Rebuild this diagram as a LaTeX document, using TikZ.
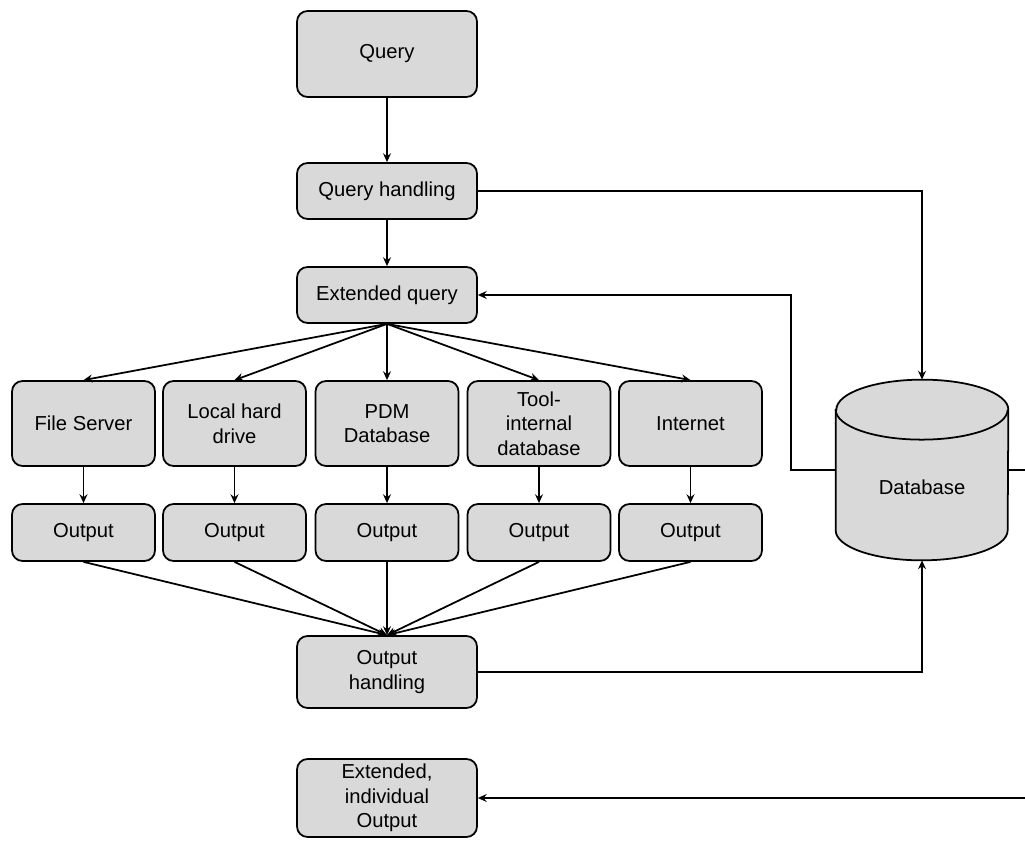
\documentclass[tikz,border=0pt]{standalone}
\usepackage{fontspec}
\setmainfont{Liberation Sans}
\usepackage{xcolor}
\usepackage{tikz}
\usetikzlibrary{arrows.meta,shapes.geometric,positioning,calc}

\definecolor{boxgray}{HTML}{D9D9D9}

\tikzset{
	box/.style={draw=black, line width=1pt, fill=boxgray, rounded corners=6pt,
			align=center, font=\fontsize{11.5}{14}\selectfont, inner sep=2pt},
	mainbox/.style={box, minimum width=3.6cm, minimum height=1.12cm},
	srcbox/.style={box, minimum width=2.86cm, minimum height=1.7cm},
	outbox/.style={box, minimum width=2.86cm, minimum height=1.14cm},
	arr/.style={line width=1pt, -{Stealth[length=5pt,width=4.5pt]}},
	line/.style={line width=1pt}
}

\begin{document}
\begin{tikzpicture}
		\useasboundingbox (0,0) rectangle (20.5,16.8);
		\clip (0,0) rectangle (20.5,16.8);

		% main column
		\node[mainbox, minimum height=1.72cm] (query) at (7.74,15.72) {Query};
		\node[mainbox] (qhandle) at (7.74,12.98) {Query handling};
		\node[mainbox] (extq) at (7.74,10.90) {Extended query};
		\node[mainbox, minimum height=1.44cm] (ohandle) at (7.74,3.36) {Output\\handling};
		\node[mainbox, minimum height=1.56cm] (final) at (7.74,0.84) {Extended,\\individual\\Output};

		\draw[arr] (query.south) -- (qhandle.north);
		\draw[arr] (qhandle.south) -- (extq.north);

		% sources and their outputs
		\foreach \x/\nm/\txt in {1.67/fs/{File Server}, 4.69/lhd/{Local hard\\drive},
				7.74/pdm/{PDM\\Database}, 10.78/tid/{Tool-\\internal\\database}, 13.81/inet/{Internet}} {
				\node[srcbox] (\nm) at (\x,8.33) {\txt};
				\node[outbox] (\nm-out) at (\x,6.15) {Output};
				\draw[arr] (extq.south) -- (\nm.north);
				\draw[arr] (\nm.south) -- (\nm-out.north);
				\draw[arr] (\nm-out.south) -- (ohandle.north);
			}

		% database cylinder
		\node[minimum width=3.44cm, minimum height=3.6cm, inner sep=0pt] (db) at (18.44,7.40) {};
		\draw[line width=1pt, fill=boxgray]
		([yshift=-0.6cm]db.north west) -- ([yshift=0.6cm]db.south west)
		arc[start angle=180, end angle=360, x radius=1.72cm, y radius=0.6cm]
		-- ([yshift=-0.6cm]db.north east)
		arc[start angle=0, end angle=180, x radius=1.72cm, y radius=0.6cm] -- cycle;
		\draw[line width=1pt] ([yshift=-0.6cm]db.north west)
		arc[start angle=180, end angle=360, x radius=1.72cm, y radius=0.6cm];
		\node[font=\fontsize{11.5}{14}\selectfont] (dblabel) at ([yshift=-0.34cm]db.center) {Database};

		% connections to the database
		\coordinate (back) at ($(db.west)+(-0.9,0)$);
		\coordinate (edge) at (20.62,0 |- db.east);
		\draw[arr] (qhandle.east) -| (db.north);
		\draw[arr] (ohandle.east) -| (db.south);
		\draw[arr] (db.west) -- (back) |- (extq.east);
		\draw[arr] (db.east) -- (edge) |- (final.east);
	\end{tikzpicture}
\end{document}
